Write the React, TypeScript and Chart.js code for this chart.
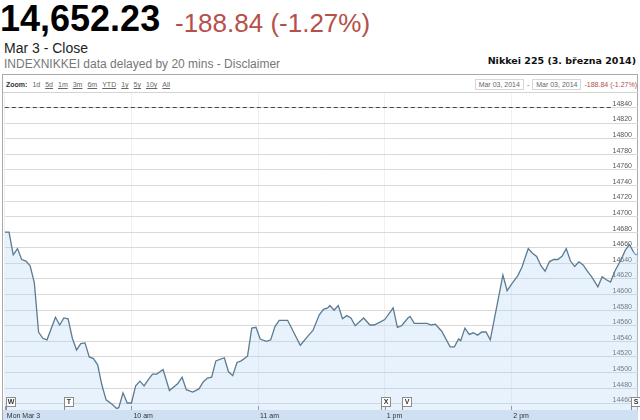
import React, { useEffect, useRef } from "react";
import { Chart, registerables } from "chart.js";

Chart.register(...registerables);

// trading minutes since 9:00 (lunch break 11:30-12:30 removed)
const minutes = [
  0, 2, 4, 6, 8, 10, 12, 14, 16, 18, 20, 24, 26, 28, 30, 32, 34, 36, 38, 40,
  42, 44, 46, 48, 51, 53, 54, 56, 58, 60, 62, 64, 66, 68, 70, 72, 75, 78, 82, 84,
  86, 89, 92, 94, 96, 98, 100, 104, 106, 108, 110, 112, 115, 117, 119, 121, 124, 126, 128, 130,
  134, 140, 144, 146, 149, 151, 153, 154, 156, 158, 160, 162, 164, 166, 170, 173, 175, 178, 180, 183,
  184, 186, 188, 191, 192, 194, 200, 202, 204, 207, 211, 213, 215, 216, 218, 220, 222, 224, 226, 228,
  230, 236, 238, 240, 243, 245, 248, 250, 252, 254, 256, 258, 260, 262, 264, 266, 268, 270, 272, 274,
  276, 278, 281, 283, 285, 287, 289, 292, 294, 296, 298, 299, 300,
];
const prices = [
  14680, 14680, 14651, 14659, 14645, 14643, 14637, 14615, 14552, 14544, 14542, 14571, 14561, 14570, 14569, 14544, 14529, 14537, 14538, 14520,
  14518, 14510, 14484, 14465, 14459, 14454, 14455, 14474, 14461, 14461, 14483, 14489, 14483, 14491, 14498, 14498, 14504, 14477, 14486, 14494,
  14478, 14475, 14479, 14488, 14493, 14494, 14515, 14519, 14501, 14496, 14513, 14515, 14521, 14557, 14558, 14543, 14540, 14542, 14559, 14567,
  14567, 14535, 14548, 14554, 14574, 14581, 14583, 14586, 14580, 14586, 14569, 14573, 14570, 14560, 14570, 14561, 14561, 14565, 14568, 14579,
  14583, 14558, 14560, 14570, 14572, 14563, 14563, 14561, 14562, 14553, 14533, 14533, 14543, 14541, 14557, 14549, 14551, 14548, 14552, 14552,
  14542, 14625, 14605, 14613, 14624, 14635, 14659, 14653, 14649, 14637, 14630, 14642, 14645, 14645, 14649, 14659, 14643, 14636, 14642, 14638,
  14630, 14623, 14610, 14623, 14619, 14616, 14630, 14645, 14657, 14664, 14654, 14651, 14652.23,
];

const yTickValues = [
  14460, 14480, 14500, 14520, 14540, 14560, 14580, 14600, 14620, 14640,
  14660, 14680, 14700, 14720, 14740, 14760, 14780, 14800, 14820, 14840,
];
const xTickMinutes = [0, 60, 120, 180, 240];
const xTickLabels = ["Mon Mar 3", "10 am", "11 am", "1 pm", "2 pm"];
const previousClose = 14841.07;
const flagMinutes = [0.6, 28.2, 178.3, 188.1, 296.5];
const flagLetters = ["W", "T", "X", "V", "S"];
const zoomLinks = ["1d", "5d", "1m", "3m", "6m", "YTD", "1y", "5y", "10y", "All"];

const SMALL_FONT = '"Liberation Sans", Arial, sans-serif';

const decorPlugin = {
  id: "decor",
  beforeDraw(chart: any) {
    const { ctx, chartArea } = chart;
    ctx.save();
    ctx.fillStyle = "#cfe0f3";
    ctx.fillRect(3, chartArea.bottom, 635, chart.height - chartArea.bottom);
    ctx.restore();
  },
  afterDatasetsDraw(chart: any) {
    const { ctx, chartArea, scales } = chart;
    const xs = scales.x;
    const ys = scales.y;
    ctx.save();
    // previous close dashed line
    const yc = Math.round(ys.getPixelForValue(previousClose)) + 0.5;
    ctx.strokeStyle = "#444";
    ctx.lineWidth = 1;
    ctx.setLineDash([4, 3]);
    ctx.beginPath();
    ctx.moveTo(chartArea.left, yc);
    ctx.lineTo(chartArea.right - 26, yc);
    ctx.stroke();
    ctx.setLineDash([]);
    // small hour ticks
    ctx.strokeStyle = "#9a9a9a";
    xTickMinutes.forEach((m) => {
      const x = Math.round(xs.getPixelForValue(m)) + 0.5;
      ctx.beginPath();
      ctx.moveTo(x, chartArea.bottom - 4);
      ctx.lineTo(x, chartArea.bottom);
      ctx.stroke();
    });
    // flags
    ctx.font = `bold 7px ${SMALL_FONT}`;
    ctx.textAlign = "center";
    ctx.textBaseline = "middle";
    flagMinutes.forEach((m, i) => {
      const x = Math.round(xs.getPixelForValue(m)) + 0.5;
      const top = chartArea.bottom - 12.5;
      ctx.strokeStyle = "#8c8c8c";
      ctx.beginPath();
      ctx.moveTo(x, top);
      ctx.lineTo(x, chartArea.bottom);
      ctx.stroke();
      ctx.fillStyle = "#fff";
      ctx.fillRect(x, top, 9, 9);
      ctx.strokeRect(x, top, 9, 9);
      ctx.fillStyle = "#333";
      ctx.fillText(flagLetters[i], x + 4.5, top + 5);
    });
    ctx.restore();
  },
};

function PriceChart() {
  const ref = useRef<HTMLCanvasElement | null>(null);
  useEffect(() => {
    if (!ref.current) return;
    const points = minutes.map((m, i) => ({ x: m, y: prices[i] }));
    const last = points.length - 1;
    const chart = new Chart(ref.current, {
      type: "line",
      data: {
        datasets: [
          {
            data: points,
            borderColor: "#5d7b90",
            borderWidth: 1.3,
            pointRadius: 0,
            tension: 0,
            fill: "start",
            backgroundColor: "rgba(175,213,245,0.3)",
            segment: {
              borderColor: (c: any) => (c.p1DataIndex >= last - 1 ? "#6d9fd3" : undefined),
            },
          },
        ],
      },
      options: {
        responsive: false,
        animation: false,
        events: [],
        layout: { padding: { left: 4.8, right: 2, top: 0, bottom: 0 } },
        plugins: {
          legend: { display: false },
          tooltip: { enabled: false },
          title: { display: false },
        },
        scales: {
          x: {
            type: "linear",
            min: 0,
            max: 300,
            afterBuildTicks: (s: any) => {
              s.ticks = xTickMinutes.map((v) => ({ value: v }));
            },
            afterFit: (s: any) => {
              s.height = 10;
            },
            ticks: {
              align: "start",
              padding: 2,
              labelOffset: 2,
              maxRotation: 0,
              autoSkip: false,
              font: { family: SMALL_FONT, size: 7 },
              color: "#333",
              callback: (_v: any, i: number) => xTickLabels[i],
            },
            grid: { color: "#f0f0f0", drawTicks: false },
            border: { display: false },
          },
          y: {
            position: "right",
            min: 14452,
            max: 14858.5,
            afterBuildTicks: (s: any) => {
              s.ticks = yTickValues.map((v) => ({ value: v }));
            },
            afterFit: (s: any) => {
              s.width = 0;
            },
            ticks: {
              mirror: true,
              padding: -6,
              labelOffset: -3.5,
              font: { family: SMALL_FONT, size: 7 },
              color: "#555",
              callback: (v: any) => String(v),
            },
            grid: { color: "#d9d9d9", drawTicks: false },
            border: { display: false },
          },
        },
      },
      plugins: [decorPlugin],
    } as any);
    return () => chart.destroy();
  }, []);
  return (
    <canvas
      ref={ref}
      width={640}
      height={327}
      style={{ position: "absolute", left: 0, top: 93, width: 640, height: 327 }}
    />
  );
}

export default function App() {
  const abs = (o: any) => ({ position: "absolute" as const, whiteSpace: "nowrap" as const, ...o });
  return (
    <div
      style={{
        position: "absolute",
        left: 0,
        top: 0,
        width: 640,
        height: 420,
        overflow: "hidden",
        background: "#fff",
        fontFamily: '"Liberation Sans", Arial, sans-serif',
      }}
    >
      <div style={abs({ left: 0, top: 0.5, fontSize: 36, lineHeight: "36px", fontWeight: 700, color: "#000" })}>
        14,652.23
      </div>
      <div style={abs({ left: 175, top: 10, fontSize: 26, lineHeight: "26px", color: "#b5504a" })}>
        -188.84 (-1.27%)
      </div>
      <div style={abs({ left: 4, top: 41, fontSize: 14, lineHeight: "14px", color: "#222" })}>Mar 3 - Close</div>
      <div style={abs({ left: 4, top: 58, fontSize: 12, lineHeight: "12px", color: "#777" })}>
        INDEXNIKKEI data delayed by 20 mins - Disclaimer
      </div>
      <div
        style={abs({
          right: 4,
          top: 56,
          fontSize: 9.5,
          lineHeight: "10px",
          fontWeight: 700,
          color: "#111",
          fontFamily: '"DejaVu Sans", Verdana, sans-serif',
        })}
      >
        Nikkei 225 (3. března 2014)
      </div>
      <div
        style={{
          position: "absolute",
          left: 2,
          top: 74,
          width: 634,
          height: 360,
          border: "1px solid #a9a9a9",
        }}
      />
      <div style={{ position: "absolute", left: 3, top: 92, width: 635, height: 1, background: "#d4d4d4" }} />
      <div style={abs({ left: 6, top: 80, fontSize: 7, lineHeight: "9px", color: "#666" })}>
        <span style={{ fontWeight: 700, color: "#333" }}>Zoom:</span>
        {zoomLinks.map((z, i) => (
          <span key={z} style={{ marginLeft: 5, textDecoration: i === 0 ? "none" : "underline" }}>
            {z}
          </span>
        ))}
      </div>
      <div style={abs({ right: 3, top: 79, fontSize: 7, lineHeight: "9px", color: "#666", display: "flex", alignItems: "center" })}>
        <span style={{ border: "1px solid #d6d6d6", padding: "0 3px" }}>Mar 03, 2014</span>
        <span style={{ margin: "0 3px" }}>-</span>
        <span style={{ border: "1px solid #d6d6d6", padding: "0 3px" }}>Mar 03, 2014</span>
        <span style={{ marginLeft: 3, color: "#b5504a" }}>-188.84 (-1.27%)</span>
      </div>
      <PriceChart />
    </div>
  );
}
